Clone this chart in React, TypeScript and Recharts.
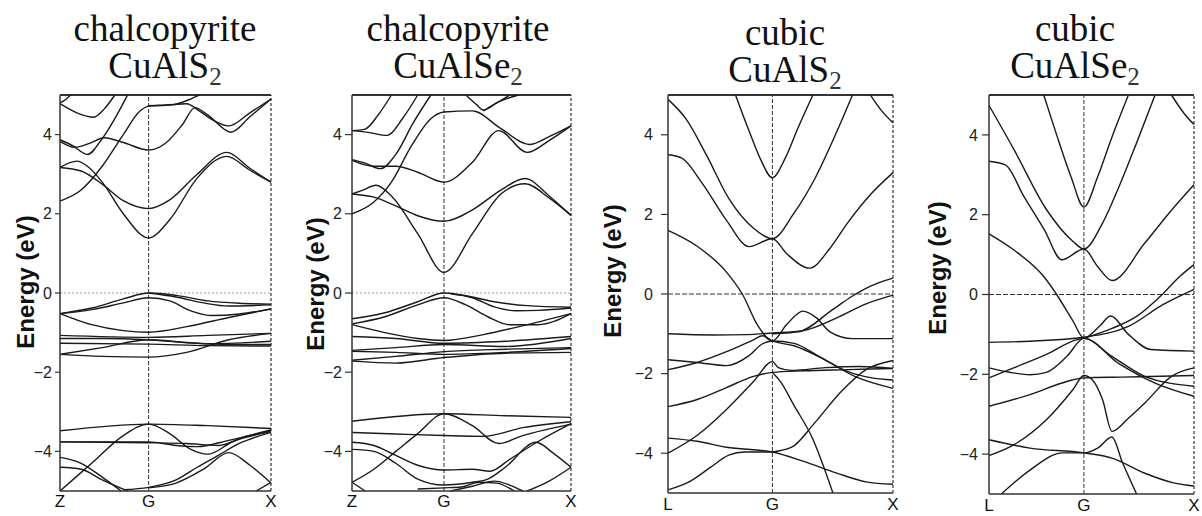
import React from 'react';
import { LineChart, Line, XAxis, YAxis, ReferenceLine } from 'recharts';

type Band = number[][];

const energyTicks = [-4, -2, 0, 2, 4];
const chalcoPath = ['Z', 'G', 'X'];
const cubicPath = ['L', 'G', 'X'];

// [k (fraction of the path), energy (eV)]
const chalcoSBands: Band[] = [
  [[0, 3.17], [0.08, 3.33], [0.13, 3.2], [0.2, 2.8], [0.3, 2.0], [0.42, 1.39], [0.52, 1.85], [0.65, 2.9], [0.79, 3.45], [0.9, 3.1], [1, 2.8]],
  [[0, 3.17], [0.1, 3.08], [0.2, 2.75], [0.3, 2.33], [0.42, 2.13], [0.52, 2.35], [0.65, 3.0], [0.79, 3.55], [0.9, 3.15], [1, 2.8]],
  [[0, 2.32], [0.1, 2.6], [0.2, 3.2], [0.3, 4.0], [0.38, 4.6], [0.42, 4.72], [0.5, 4.74], [0.6, 4.78], [0.66, 4.6], [0.73, 4.35], [0.8, 4.22], [0.9, 4.55], [1, 4.9]],
  [[0.42, 4.73], [0.54, 4.76], [0.61, 4.88], [0.66, 5.0]],
  [[0, 3.83], [0.07, 3.68], [0.14, 3.78], [0.21, 3.92], [0.3, 3.8], [0.42, 3.61], [0.5, 3.78], [0.58, 4.25], [0.64, 4.68], [0.7, 4.5], [0.81, 4.06], [0.9, 4.45], [1, 4.9]],
  [[0, 3.87], [0.06, 3.72], [0.13, 3.5], [0.2, 3.9], [0.27, 4.5], [0.32, 5.0]],
  [[0, 4.78], [0.08, 4.55], [0.16, 4.44], [0.21, 4.65], [0.26, 5.0]],
  [[0, 4.8], [0.03, 4.9], [0.05, 5.0]],
  [[0, -0.52], [0.15, -0.38], [0.3, -0.15], [0.42, 0], [0.55, -0.06], [0.7, -0.2], [0.85, -0.26], [1, -0.28]],
  [[0, -0.52], [0.15, -0.42], [0.3, -0.25], [0.42, -0.12], [0.52, -0.2], [0.62, -0.45], [0.72, -0.57], [0.85, -0.53], [1, -0.4]],
  [[0.42, 0], [0.55, -0.1], [0.68, -0.25], [0.8, -0.33], [1, -0.3]],
  [[0, -0.52], [0.15, -0.8], [0.3, -0.95], [0.42, -0.99], [0.6, -0.85], [0.8, -0.62], [1, -0.4]],
  [[0, -1.07], [0.42, -1.12], [0.7, -1.07], [1, -1.02]],
  [[0, -1.15], [0.2, -1.15], [0.42, -1.18], [0.7, -1.28], [1, -1.22]],
  [[0, -1.27], [0.42, -1.29], [0.7, -1.33], [1, -1.34]],
  [[0, -1.55], [0.2, -1.38], [0.42, -1.18], [0.6, -1.25], [0.8, -1.3], [1, -1.3]],
  [[0, -1.55], [0.2, -1.6], [0.42, -1.62], [0.6, -1.5], [0.8, -1.18], [1, -1.02]],
  [[0, -3.48], [0.42, -3.31], [0.7, -3.35], [1, -3.42]],
  [[0, -5.0], [0.15, -4.3], [0.3, -3.6], [0.42, -3.31], [0.52, -3.55], [0.62, -3.95], [0.7, -4.07], [0.82, -3.75], [1, -3.5]],
  [[0, -3.76], [0.42, -3.76], [0.55, -3.85], [0.65, -3.88], [0.8, -3.72], [1, -3.48]],
  [[0, -3.76], [0.42, -3.78], [0.6, -3.8], [0.75, -3.85], [0.88, -3.62], [1, -3.46]],
  [[0, -4.15], [0.1, -4.3], [0.2, -4.65], [0.29, -5.0]],
  [[0, -4.4], [0.1, -4.45], [0.2, -4.72], [0.32, -5.0]],
  [[0.3, -4.97], [0.42, -4.91], [0.55, -4.72], [0.65, -4.4], [0.75, -4.1], [0.85, -3.8], [1, -3.52]],
  [[0.42, -4.92], [0.55, -4.8], [0.68, -4.45], [0.8, -4.03], [0.9, -4.35], [1, -4.8]],
  [[0.93, -5.0], [1, -4.78]],
];

const chalcoSeBands: Band[] = [
  [[0, 2.5], [0.05, 2.6], [0.11, 2.72], [0.18, 2.45], [0.3, 1.5], [0.42, 0.52], [0.55, 1.5], [0.68, 2.5], [0.79, 2.76], [0.9, 2.4], [1, 1.96]],
  [[0, 2.5], [0.1, 2.42], [0.2, 2.2], [0.3, 1.95], [0.42, 1.81], [0.55, 2.1], [0.68, 2.6], [0.79, 2.89], [0.9, 2.45], [1, 1.96]],
  [[0, 2.0], [0.1, 2.3], [0.18, 2.8], [0.27, 3.7], [0.36, 4.4], [0.42, 4.57], [0.55, 4.6], [0.68, 4.15], [0.81, 3.75], [0.9, 3.95], [1, 4.22]],
  [[0, 3.35], [0.1, 3.2], [0.2, 3.2], [0.3, 3.05], [0.42, 2.8], [0.55, 3.3], [0.67, 4.1], [0.8, 3.55], [0.9, 3.85], [1, 4.22]],
  [[0, 3.37], [0.06, 3.28], [0.13, 3.14], [0.2, 3.5], [0.28, 4.3], [0.36, 5.0]],
  [[0, 4.1], [0.08, 4.05], [0.16, 3.98], [0.23, 4.4], [0.3, 5.0]],
  [[0, 4.1], [0.06, 4.14], [0.12, 4.5], [0.18, 5.0]],
  [[0.52, 5.0], [0.57, 4.75], [0.6, 4.62], [0.66, 4.8], [0.72, 5.0]],
  [[0.6, 4.6], [0.68, 4.85], [0.76, 5.0]],
  [[0, -0.65], [0.15, -0.5], [0.3, -0.22], [0.42, 0], [0.5, -0.05], [0.65, -0.22], [0.8, -0.32], [1, -0.36]],
  [[0, -0.78], [0.15, -0.6], [0.3, -0.3], [0.42, -0.12], [0.52, -0.3], [0.62, -0.6], [0.72, -0.8], [0.85, -0.8], [1, -0.52]],
  [[0.45, -0.02], [0.55, -0.12], [0.65, -0.35], [0.75, -0.45], [0.85, -0.44], [1, -0.38]],
  [[0, -0.8], [0.15, -1.0], [0.3, -1.15], [0.42, -1.2], [0.6, -1.05], [0.8, -0.8], [1, -0.52]],
  [[0, -1.1], [0.2, -1.15], [0.42, -1.27], [0.7, -1.22], [1, -1.1]],
  [[0, -1.45], [0.2, -1.38], [0.42, -1.3], [0.7, -1.35], [1, -1.15]],
  [[0, -1.47], [0.2, -1.5], [0.42, -1.55], [0.7, -1.5], [1, -1.4]],
  [[0, -1.7], [0.2, -1.6], [0.42, -1.48], [0.7, -1.42], [1, -1.38]],
  [[0, -1.72], [0.2, -1.77], [0.42, -1.63], [0.7, -1.52], [1, -1.5]],
  [[0, -3.24], [0.42, -3.05], [0.7, -3.1], [1, -3.14]],
  [[0, -4.78], [0.1, -4.45], [0.2, -4.0], [0.3, -3.55], [0.42, -3.05], [0.55, -3.35], [0.67, -3.8], [0.78, -3.6], [1, -3.31]],
  [[0, -3.52], [0.2, -3.56], [0.42, -3.6], [0.6, -3.62], [0.78, -3.4], [1, -3.25]],
  [[0, -3.77], [0.1, -3.85], [0.2, -4.1], [0.3, -4.35], [0.42, -4.47], [0.55, -4.45], [0.63, -4.5], [0.72, -4.2], [0.85, -3.75], [1, -3.3]],
  [[0, -3.95], [0.1, -4.0], [0.2, -4.3], [0.3, -4.7], [0.42, -4.85], [0.55, -4.78], [0.62, -4.7], [0.7, -4.4], [0.84, -3.77], [0.92, -4.05], [1, -4.4]],
  [[0, -4.78], [0.06, -5.0]],
  [[0.3, -4.95], [0.42, -4.92], [0.5, -4.9], [0.58, -4.78], [0.66, -4.8], [0.74, -5.0]],
  [[0.45, -5.0], [0.55, -4.88], [0.65, -4.75], [0.72, -4.85], [0.78, -5.0]],
  [[0.8, -5.0], [0.9, -4.75], [1, -4.4]],
];

const cubicSBands: Band[] = [
  [[0, 4.89], [0.08, 4.4], [0.17, 3.5], [0.27, 2.4], [0.38, 1.65], [0.464, 1.39], [0.56, 2.03], [0.65, 2.87], [0.74, 3.95], [0.82, 5.0]],
  [[0, 3.5], [0.06, 3.42], [0.15, 2.8], [0.26, 1.85], [0.36, 1.19], [0.464, 1.39], [0.53, 1.0], [0.63, 0.65], [0.72, 1.15], [0.8, 1.8], [0.9, 2.5], [1, 3.05]],
  [[0.3, 5.0], [0.36, 4.1], [0.41, 3.4], [0.464, 2.92], [0.52, 3.4], [0.58, 4.2], [0.644, 5.0]],
  [[0.9, 5.0], [0.95, 4.6], [1, 4.3]],
  [[0, 1.6], [0.13, 1.2], [0.26, 0.55], [0.33, 0.0], [0.4, -0.8], [0.464, -1.18], [0.53, -0.75], [0.6, -0.43], [0.66, -0.6], [0.72, -0.95], [0.82, -1.12], [1, -1.12]],
  [[0, -1.0], [0.2, -1.03], [0.35, -1.02], [0.464, -0.98], [0.6, -0.92], [0.75, -0.6], [0.88, -0.25], [1, -0.03]],
  [[0.464, -1.0], [0.58, -0.95], [0.73, -0.4], [0.82, -0.05], [0.9, 0.2], [1, 0.4]],
  [[0, -1.65], [0.13, -1.72], [0.26, -1.8], [0.36, -1.55], [0.42, -1.25], [0.464, -1.18], [0.56, -1.24], [0.68, -1.6], [0.8, -1.95], [0.9, -2.1], [1, -2.16]],
  [[0, -1.9], [0.13, -1.72], [0.26, -1.45], [0.38, -1.15], [0.42, -1.05], [0.464, -1.18], [0.56, -1.3], [0.68, -1.6], [0.83, -2.07], [1, -2.37]],
  [[0, -2.83], [0.13, -2.65], [0.26, -2.35], [0.38, -2.07], [0.464, -1.97], [0.6, -1.93], [0.8, -1.9], [1, -1.87]],
  [[0, -4.0], [0.13, -3.55], [0.26, -2.9], [0.38, -2.2], [0.464, -1.7], [0.49, -1.85], [0.55, -1.92], [0.7, -1.85], [0.85, -1.82], [1, -1.87]],
  [[0.464, -1.97], [0.5, -2.2], [0.56, -2.8], [0.64, -3.6], [0.733, -5.0]],
  [[0, -3.62], [0.13, -3.7], [0.26, -3.85], [0.464, -3.97], [0.6, -4.2], [0.75, -4.5], [0.88, -4.72], [1, -4.78]],
  [[0.464, -3.97], [0.55, -3.85], [0.65, -3.25], [0.77, -2.45], [0.88, -1.9], [1, -1.67]],
  [[0, -4.92], [0.1, -4.7], [0.19, -4.35], [0.27, -4.05], [0.34, -3.97], [0.464, -3.97]],
];

const cubicSeBands: Band[] = [
  [[0, 4.74], [0.12, 3.65], [0.28, 2.13], [0.41, 1.33], [0.463, 1.14], [0.55, 1.75], [0.63, 2.65], [0.72, 3.8], [0.81, 5.0]],
  [[0, 3.34], [0.08, 3.25], [0.17, 2.46], [0.27, 1.62], [0.355, 0.87], [0.463, 1.14], [0.53, 0.7], [0.6, 0.35], [0.76, 1.29], [0.88, 2.05], [1, 2.75]],
  [[0.267, 5.0], [0.33, 4.0], [0.4, 2.95], [0.463, 2.19], [0.53, 2.95], [0.6, 3.95], [0.68, 5.0]],
  [[0.89, 5.0], [0.95, 4.55], [1, 4.26]],
  [[0, 1.52], [0.12, 1.12], [0.267, 0.45], [0.33, 0.0], [0.41, -0.67], [0.463, -1.09], [0.54, -0.79], [0.594, -0.54], [0.68, -1.0], [0.79, -1.38], [1, -1.42]],
  [[0, -1.2], [0.2, -1.17], [0.463, -1.07], [0.68, -0.8], [0.85, -0.25], [1, 0.13]],
  [[0.463, -1.1], [0.6, -0.85], [0.72, -0.55], [0.845, 0.0], [0.93, 0.45], [1, 0.75]],
  [[0, -1.84], [0.1, -1.95], [0.2, -2.01], [0.28, -1.95], [0.38, -1.55], [0.463, -1.1], [0.6, -1.55], [0.76, -2.05], [1, -2.3]],
  [[0, -2.09], [0.12, -1.84], [0.28, -1.5], [0.43, -1.13], [0.463, -1.1], [0.63, -1.72], [0.81, -2.22], [1, -2.55]],
  [[0, -2.8], [0.2, -2.51], [0.38, -2.18], [0.463, -2.09], [0.65, -2.07], [1, -2.03]],
  [[0, -4.04], [0.12, -3.77], [0.28, -3.14], [0.41, -2.38], [0.463, -2.03], [0.506, -2.15], [0.554, -2.64], [0.6, -3.43], [0.68, -3.1], [0.76, -2.72], [0.89, -2.05], [1, -1.84]],
  [[0, -3.64], [0.2, -3.85], [0.463, -3.97], [0.6, -4.1], [0.76, -4.48], [0.9, -4.72], [1, -4.8]],
  [[0.06, -5.0], [0.2, -4.4], [0.36, -3.97], [0.463, -3.97], [0.53, -3.85], [0.6, -3.57], [0.65, -4.2], [0.72, -5.0]],
];

interface PanelSpec {
  bands: Band[];
  g: number;
  path: string[];
  box: { x: number; y: number; w: number; h: number };
  tickSize: number;
  tickMargin: number;
  labelGap: number;
  zeroDash: string;
  zeroColor: string;
}

const panels: PanelSpec[] = [
  { bands: chalcoSBands, g: 0.42, path: chalcoPath, box: { x: 60, y: 95, w: 211, h: 396 }, tickSize: 5, tickMargin: 3, labelGap: 4, zeroDash: '2 2', zeroColor: '#999' },
  { bands: chalcoSeBands, g: 0.42, path: chalcoPath, box: { x: 352, y: 95, w: 219, h: 396 }, tickSize: 7, tickMargin: 3, labelGap: 4, zeroDash: '2 2', zeroColor: '#999' },
  { bands: cubicSBands, g: 0.464, path: cubicPath, box: { x: 668, y: 95, w: 225, h: 398 }, tickSize: 7, tickMargin: 8, labelGap: 5, zeroDash: '5 2', zeroColor: '#333' },
  { bands: cubicSeBands, g: 0.463, path: cubicPath, box: { x: 989, y: 95, w: 205, h: 399 }, tickSize: 7, tickMargin: 4, labelGap: 5, zeroDash: '5 2', zeroColor: '#333' },
];

const YW = 60;
const MT = 5;
const MR = 14;
const XH = 30;

const fmtE = (v: number) => (v < 0 ? `\u2212${-v}` : `${v}`);

const BandPanel = ({ p }: { p: PanelSpec }) => {
  const series = p.bands.map((b) => b.map(([k, e]) => ({ k, e })));
  const ticks = [0, p.g, 1];
  return (
    <div style={{ position: 'absolute', left: p.box.x - YW, top: p.box.y - MT }}>
      <LineChart width={YW + p.box.w + MR} height={MT + p.box.h + XH} margin={{ top: MT, right: MR, bottom: 0, left: 0 }}>
        <XAxis
          type="number"
          dataKey="k"
          domain={[0, 1]}
          ticks={ticks}
          tickFormatter={(v: number) => p.path[ticks.indexOf(v)] ?? ''}
          height={XH}
          tickLine={false}
          tickSize={0}
          tickMargin={p.labelGap}
          axisLine={{ stroke: '#333', strokeWidth: 1.5 }}
          tick={{ fill: '#111', fontSize: 17, fontFamily: 'Liberation Sans, Arial, sans-serif' }}
          interval={0}
        />
        <YAxis
          type="number"
          domain={[-5, 5]}
          ticks={energyTicks}
          tickFormatter={fmtE}
          width={YW}
          tickSize={p.tickSize}
          tickMargin={p.tickMargin}
          axisLine={{ stroke: '#333', strokeWidth: 1.5 }}
          tickLine={{ stroke: '#333', strokeWidth: 1.2 }}
          tick={{ fill: '#222', fontSize: 16, fontFamily: 'Liberation Sans, Arial, sans-serif' }}
          interval={0}
        />
        <ReferenceLine y={5} stroke="#333" strokeWidth={1.8} />
        <ReferenceLine x={1} stroke="#333" strokeWidth={1.2} strokeDasharray="3 2" />
        <ReferenceLine x={p.g} stroke="#333" strokeWidth={1} strokeDasharray="4 2" />
        <ReferenceLine y={0} stroke={p.zeroColor} strokeWidth={1.2} strokeDasharray={p.zeroDash} />
        {series.map((d, i) => (
          <Line
            key={i}
            data={d}
            dataKey="e"
            type="monotone"
            stroke="#1a1a1a"
            strokeWidth={1.4}
            dot={false}
            activeDot={false}
            isAnimationActive={false}
          />
        ))}
      </LineChart>
    </div>
  );
};

const titles = [
  { x: 165, top: 'chalcopyrite', formula: 'CuAlS', y1: 41, y2: 78 },
  { x: 458, top: 'chalcopyrite', formula: 'CuAlSe', y1: 41, y2: 78 },
  { x: 785, top: 'cubic', formula: 'CuAlS', y1: 45, y2: 82 },
  { x: 1075, top: 'cubic', formula: 'CuAlSe', y1: 41, y2: 78 },
];

const energyLabels = [
  { x: 25, y: 282 },
  { x: 315, y: 284 },
  { x: 612, y: 271 },
  { x: 937, y: 268 },
];

export default function App() {
  return (
    <div style={{ position: 'absolute', left: 0, top: 0, width: 1202, height: 516, background: '#fff', overflow: 'hidden' }}>
      {panels.map((p, i) => (
        <BandPanel key={i} p={p} />
      ))}
      <svg width={1202} height={516} style={{ position: 'absolute', left: 0, top: 0, pointerEvents: 'none' }}>
        {titles.map((t, i) => (
          <g key={i} fontFamily="Liberation Serif, Times New Roman, serif" fill="#111" textAnchor="middle">
            <text x={t.x} y={t.y1} fontSize={37}>{t.top}</text>
            <text x={t.x} y={t.y2} fontSize={37}>
              {t.formula}
              <tspan fontSize={25} dy={7} fill="#333">2</tspan>
            </text>
          </g>
        ))}
        {energyLabels.map((l, i) => (
          <text
            key={i}
            x={l.x}
            y={l.y}
            transform={`rotate(-90 ${l.x} ${l.y})`}
            textAnchor="middle"
            dominantBaseline="central"
            fontFamily="Liberation Sans, Arial, sans-serif"
            fontWeight="bold"
            fontSize={24}
            fill="#111"
          >
            Energy (eV)
          </text>
        ))}
      </svg>
    </div>
  );
}
